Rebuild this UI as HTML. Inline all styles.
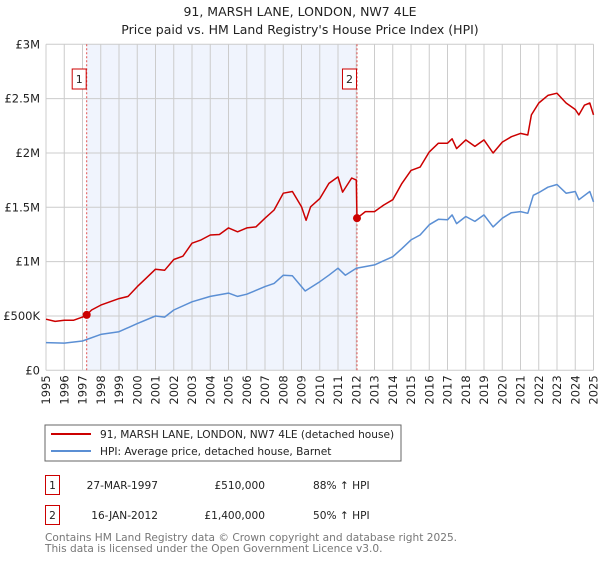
<!DOCTYPE html>
<html><head><meta charset="utf-8"><style>
body{margin:0;background:#fff;font-family:"Liberation Sans","DejaVu Sans",sans-serif;}
svg text{font-family:"DejaVu Sans","Liberation Sans",sans-serif;}
</style></head><body>
<svg id="c" width="600" height="560" xmlns="http://www.w3.org/2000/svg">
<text x="300" y="16" text-anchor="middle" font-size="12.5" fill="#222">91, MARSH LANE, LONDON, NW7 4LE</text>
<text x="300" y="34" text-anchor="middle" font-size="12.5" fill="#222">Price paid vs. HM Land Registry's House Price Index (HPI)</text>
<g id="plot"></g>
<rect x="45" y="425" width="356" height="36" fill="#fff" stroke="#666"/>
<line x1="51" y1="434" x2="91" y2="434" stroke="#cc0000" stroke-width="2"/>
<text x="100" y="438" font-size="10.6" fill="#222">91, MARSH LANE, LONDON, NW7 4LE (detached house)</text>
<line x1="51" y1="451" x2="91" y2="451" stroke="#5b8fd4" stroke-width="2"/>
<text x="100" y="455" font-size="10.6" fill="#222">HPI: Average price, detached house, Barnet</text>
<g font-size="10.6" fill="#222">
<rect x="45.5" y="475.5" width="14" height="19" fill="none" stroke="#cc0000"/>
<text x="52.5" y="489" text-anchor="middle">1</text>
<text x="158" y="489" text-anchor="end">27-MAR-1997</text>
<text x="265" y="489" text-anchor="end">£510,000</text>
<text x="313" y="489">88% ↑ HPI</text>
<rect x="45.5" y="505.5" width="14" height="19" fill="none" stroke="#cc0000"/>
<text x="52.5" y="519" text-anchor="middle">2</text>
<text x="158" y="519" text-anchor="end">16-JAN-2012</text>
<text x="265" y="519" text-anchor="end">£1,400,000</text>
<text x="313" y="519">50% ↑ HPI</text>
</g>
<text x="45" y="541" font-size="10.6" fill="#777">Contains HM Land Registry data © Crown copyright and database right 2025.</text>
<text x="45" y="552" font-size="10.6" fill="#777">This data is licensed under the Open Government Licence v3.0.</text>
</svg>
<script>
const redT=[1995,1995.5,1996,1996.5,1997,1997.23,1997.5,1998,1998.5,1999,1999.5,2000,2000.5,2001,2001.5,2002,2002.5,2003,2003.5,2004,2004.5,2005,2005.5,2006,2006.5,2007,2007.5,2008,2008.5,2009,2009.25,2009.5,2010,2010.5,2011,2011.25,2011.75,2012,2012.04,2012.5,2013,2013.5,2014,2014.5,2015,2015.5,2016,2016.5,2017,2017.25,2017.5,2018,2018.5,2019,2019.5,2020,2020.5,2021,2021.4,2021.6,2022,2022.5,2023,2023.5,2024,2024.2,2024.5,2024.8,2025];
const redV=[0.47,0.45,0.46,0.46,0.49,0.51,0.555,0.60,0.63,0.66,0.68,0.77,0.85,0.93,0.92,1.02,1.05,1.17,1.20,1.245,1.25,1.31,1.275,1.31,1.32,1.40,1.475,1.63,1.645,1.505,1.38,1.505,1.58,1.72,1.78,1.64,1.77,1.75,1.40,1.46,1.46,1.52,1.57,1.72,1.84,1.87,2.01,2.09,2.09,2.13,2.04,2.12,2.06,2.12,2.0,2.10,2.15,2.18,2.165,2.35,2.46,2.53,2.55,2.46,2.40,2.35,2.44,2.46,2.35];
const hpiT=[1995,1996,1997,1998,1999,2000,2001,2001.5,2002,2003,2004,2005,2005.5,2006,2007,2007.5,2008,2008.5,2009,2009.2,2010,2010.5,2011,2011.4,2012,2013,2014,2014.5,2015,2015.5,2016,2016.5,2017,2017.25,2017.5,2018,2018.5,2019,2019.5,2020,2020.5,2021,2021.4,2021.7,2022,2022.5,2023,2023.5,2024,2024.2,2024.8,2025];
const hpiV=[0.255,0.25,0.27,0.33,0.355,0.43,0.50,0.49,0.555,0.63,0.68,0.71,0.68,0.70,0.77,0.80,0.875,0.87,0.77,0.73,0.815,0.875,0.94,0.875,0.94,0.97,1.045,1.12,1.20,1.245,1.34,1.39,1.385,1.43,1.35,1.415,1.37,1.43,1.32,1.40,1.45,1.46,1.445,1.61,1.635,1.685,1.71,1.63,1.645,1.57,1.645,1.55];
const saleT=[1997.23,2012.04];
const saleV=[0.51,1.40];
const saleLabels=["1","2"];
const yTicks=[0,0.5,1,1.5,2,2.5,3];
const yLabels=["£0","£500K","£1M","£1.5M","£2M","£2.5M","£3M"];
const years=[];for(let y=1995;y<=2025;y++)years.push(y);
const X0=46,X1=593.5,Y0=370.3,Y1=44.3;
const sx=t=>X0+(t-1995)/30*(X1-X0);
const sy=v=>Y0-v/3*(Y0-Y1);
const NS="http://www.w3.org/2000/svg";
const g=document.getElementById('plot');
function mk(tag,attrs){const e=document.createElementNS(NS,tag);for(const k in attrs)e.setAttribute(k,attrs[k]);g.appendChild(e);return e;}
let e=mk('rect',{x:sx(saleT[0]),y:Y1,width:sx(saleT[1])-sx(saleT[0]),height:Y0-Y1,fill:'#f0f4fd'});


years.forEach(y=>{
 e=mk('line',{x1:sx(y),x2:sx(y),y1:Y1,y2:Y0,stroke:'#ccc','stroke-width':1});
 
 
 e=mk('text',{x:0,y:0,transform:`translate(${sx(y)+4},${Y0+5}) rotate(-90)`,'text-anchor':'end','font-size':11.5,fill:'#222'});
 e.textContent=y;
 
 
});
yTicks.forEach((v,i)=>{
 e=mk('line',{x1:X0,x2:X1,y1:sy(v),y2:sy(v),stroke:'#ccc','stroke-width':1});
 
 
 e=mk('text',{x:40,y:sy(v)+4,'text-anchor':'end','font-size':11.5,fill:'#222'});
 e.textContent=yLabels[i];
 
 
});
saleT.forEach((t,i)=>{
 e=mk('line',{x1:sx(t),x2:sx(t),y1:Y1,y2:Y0,stroke:'#e05050','stroke-width':1,'stroke-dasharray':'2,2'});
 
 
 e=mk('rect',{x:sx(t)-14.5,y:69,width:14,height:20,fill:'#fff',stroke:'#cc0000'});
 
 
 e=mk('text',{x:sx(t)-7.5,y:83,'text-anchor':'middle','font-size':11,fill:'#222'});
 e.textContent=saleLabels[i];
 
 
});
const pts=(T,V)=>T.map((t,i)=>sx(t).toFixed(1)+','+sy(V[i]).toFixed(1)).join(' ');
e=mk('polyline',{points:pts(hpiT,hpiV),fill:'none',stroke:'#5b8fd4','stroke-width':1.5,'stroke-linejoin':'round'});


e=mk('polyline',{points:pts(redT,redV),fill:'none',stroke:'#cc0000','stroke-width':1.5,'stroke-linejoin':'round'});


saleT.forEach((t,i)=>{
 e=mk('circle',{cx:sx(t),cy:sy(saleV[i]),r:4,fill:'#cc0000'});
 
 
});
</script>
</body></html>
